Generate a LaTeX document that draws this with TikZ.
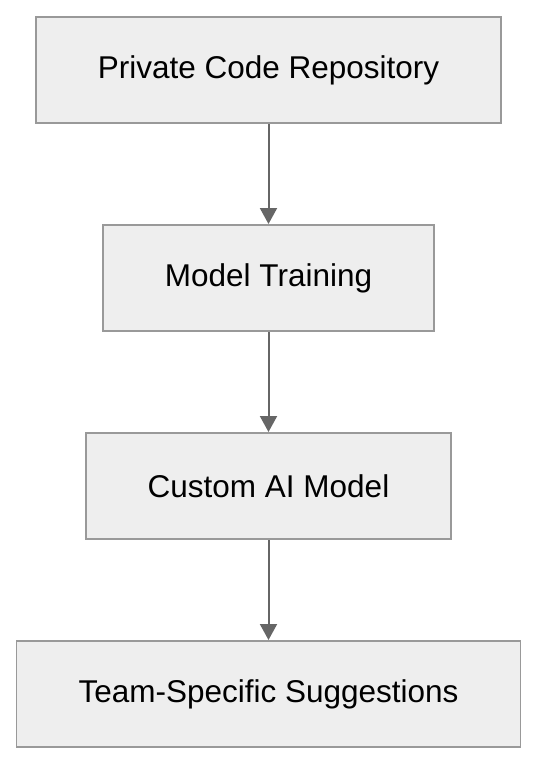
\documentclass[tikz,border=0pt]{standalone}
\usepackage{fontspec}
\setmainfont{Liberation Sans}
\usepackage{xcolor}
\usetikzlibrary{positioning,arrows.meta}

\definecolor{boxfill}{HTML}{EEEEEE}
\definecolor{boxline}{HTML}{999999}
\definecolor{arrowline}{HTML}{666666}

\begin{document}
\begin{tikzpicture}[
			x=1pt, y=-1pt,
			box/.style={draw=boxline, fill=boxfill, line width=1.6pt, rectangle, align=center,
				inner xsep=62pt, minimum height=106.4pt, font=\fontsize{31.5}{38}\selectfont},
			flow/.style={draw=arrowline, line width=2pt, -{Triangle[length=16pt,width=17pt]}}
			]
			\useasboundingbox (0,0) rectangle (538,764);
			
			%==================== boxes ====================
			\node[box] (repo) at (268.5,70) {Private Code Repository};
			\node[box, below=100pt of repo] (train) {Model Training};
			\node[box, below=100pt of train] (model) {Custom AI Model};
			\node[box, below=100pt of model] (suggest) {Team-Specific Suggestions};
			
			%==================== arrows ====================
			\draw[flow] (repo) -- (train);
			\draw[flow] (train) -- (model);
			\draw[flow] (model) -- (suggest);
			
		\end{tikzpicture}
\end{document}
